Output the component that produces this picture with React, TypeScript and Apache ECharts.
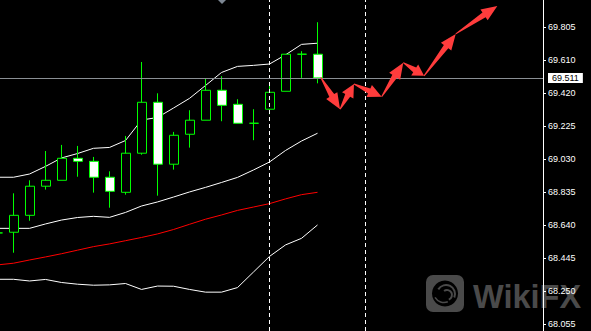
import React, { useEffect, useRef } from 'react';
import * as echarts from 'echarts';

// ---- data ----
const candleIndex = [0, 1, 2, 3, 4, 5, 6, 7, 8, 9, 10, 11, 12, 13, 14, 15, 16, 17, 18, 19, 20];
const openValues = [68.595, 68.599, 68.699, 68.871, 68.906, 69.036, 69.018, 68.924, 68.835, 69.066, 69.367, 69.001, 69.178, 69.261, 69.438, 69.355, 69.243, 69.326, 69.432, 69.651, 69.651];
const closeValues = [68.595, 68.699, 68.871, 68.906, 69.036, 69.018, 68.924, 68.841, 69.066, 69.367, 69.001, 69.172, 69.261, 69.438, 69.349, 69.243, 69.243, 69.426, 69.651, 69.651, 69.511];
const lowValues = [68.56, 68.478, 68.667, 68.851, 68.906, 68.927, 68.833, 68.744, 68.821, 69.057, 68.815, 68.969, 69.099, 69.261, 69.255, 69.243, 69.143, 69.296, 69.432, 69.511, 69.479];
const highValues = [68.63, 68.829, 68.906, 69.079, 69.115, 69.109, 69.044, 68.959, 69.168, 69.605, 69.42, 69.192, 69.32, 69.509, 69.521, 69.385, 69.326, 69.468, 69.651, 69.669, 69.84];

const upperBand = [68.924, 68.924, 68.943, 68.988, 69.038, 69.064, 69.095, 69.1, 69.141, 69.262, 69.277, 69.333, 69.39, 69.466, 69.543, 69.579, 69.585, 69.593, 69.647, 69.709, 69.716];
const innerBand = [68.622, 68.622, 68.622, 68.648, 68.671, 68.686, 68.693, 68.687, 68.716, 68.754, 68.778, 68.807, 68.837, 68.864, 68.893, 68.923, 68.967, 69.014, 69.082, 69.138, 69.184];
const redAverage = [68.406, 68.416, 68.435, 68.453, 68.472, 68.493, 68.514, 68.53, 68.549, 68.568, 68.589, 68.615, 68.646, 68.676, 68.701, 68.728, 68.748, 68.768, 68.796, 68.821, 68.835];
const lowerBand = [68.321, 68.321, 68.311, 68.32, 68.302, 68.292, 68.286, 68.288, 68.296, 68.261, 68.281, 68.28, 68.261, 68.245, 68.245, 68.272, 68.364, 68.456, 68.524, 68.563, 68.642];

const tickValues = [68.055, 68.25, 68.445, 68.64, 68.835, 69.03, 69.225, 69.42, 69.615, 69.81];
const tickLabels = ['68.055', '68.250', '68.445', '68.640', '68.835', '69.030', '69.225', '69.420', '69.610', '69.805'];

const lastPrice = 69.511;
const separatorIndexes = [17, 23];

const arrowX = [20.2, 21.41, 22.28, 24.01, 25.36, 26.66, 28.64, 31.24];
const arrowY = [69.515, 69.326, 69.475, 69.4, 69.601, 69.523, 69.771, 69.936];

const FONT = '"Liberation Sans", Arial, sans-serif';

export default function App() {
  const ref = useRef<HTMLDivElement>(null);

  useEffect(() => {
    document.body.style.margin = '0';
    document.body.style.background = '#000';
    const chart = echarts.init(ref.current!, null, { renderer: 'svg' });

    const candles = candleIndex.map((x, i) => [x, openValues[i], closeValues[i], lowValues[i], highValues[i]]);
    const toLine = (arr: number[]) => candleIndex.map((x, i) => [x, arr[i]]);
    const segments = arrowX.slice(0, -1).map((x, i) => [x, arrowY[i], arrowX[i + 1], arrowY[i + 1]]);

    const lineSeries = (name: string, arr: number[], color: string, extra: any = {}) => ({
      name,
      type: 'line',
      data: toLine(arr),
      showSymbol: false,
      symbol: 'none',
      silent: true,
      lineStyle: { color, width: 1 },
      z: 2,
      ...extra,
    });

    chart.setOption({
      animation: false,
      backgroundColor: '#000000',
      grid: { left: 0, right: 48, top: 0, bottom: 0, containLabel: false, outerBoundsMode: 'none' },
      xAxis: { type: 'value', min: 0.15625, max: 34.09375, show: false },
      yAxis: {
        type: 'value',
        position: 'right',
        min: 68.0154,
        max: 69.9713,
        splitLine: { show: false },
        axisLine: { show: true, lineStyle: { color: '#ffffff', width: 1 } },
        axisTick: { show: true, inside: false, length: 3, lineStyle: { color: '#ffffff' }, customValues: tickValues },
        axisLabel: {
          show: true,
          color: '#ffffff',
          fontSize: 9,
          fontFamily: FONT,
          margin: 5,
          customValues: tickValues,
          formatter: (v: number) => {
            const i = tickValues.findIndex((t) => Math.abs(t - v) < 0.001);
            return i >= 0 ? tickLabels[i] : '';
          },
        },
      },
      graphic: [
        {
          type: 'group',
          z: -10,
          silent: true,
          children: [
            { type: 'rect', shape: { x: 426, y: 275, width: 38, height: 37, r: 7 }, style: { fill: '#4a4a4a' }, z: -10 },
            { type: 'circle', shape: { cx: 445, cy: 293.5, r: 13 }, style: { fill: '#000000' }, z: -9 },
            { type: 'arc', shape: { cx: 446, cy: 294, r: 9, startAngle: -2.6, endAngle: 0.4 }, style: { stroke: '#4a4a4a', lineWidth: 2, fill: 'none' }, z: -8 },
            { type: 'arc', shape: { cx: 447, cy: 295, r: 5, startAngle: -2.2, endAngle: 1.2 }, style: { stroke: '#4a4a4a', lineWidth: 2, fill: 'none' }, z: -8 },
            { type: 'arc', shape: { cx: 444, cy: 292, r: 10.5, startAngle: 1.2, endAngle: 2.6 }, style: { stroke: '#4a4a4a', lineWidth: 1.5, fill: 'none' }, z: -8 },
            {
              type: 'text',
              x: 473,
              y: 297,
              z: -10,
              style: { text: 'WikiFX', fill: '#4a4a4a', fontSize: 32.5, fontWeight: 'bold', fontFamily: FONT, verticalAlign: 'middle', align: 'left' },
            },
          ],
        },
        {
          type: 'polygon',
          silent: true,
          shape: { points: [[218, 0], [226, 0], [222, 4]] },
          style: { fill: '#7d8793' },
        },
      ],
      series: [
        lineSeries('lower', lowerBand, '#ffffff'),
        lineSeries('average', redAverage, '#ff0000', {
          markLine: {
            silent: true,
            symbol: ['none', 'none'],
            label: { show: false },
            lineStyle: { color: '#ffffff', type: [4, 3], width: 1 },
            data: separatorIndexes.map((x) => ({ xAxis: x })),
          },
        }),
        lineSeries('inner', innerBand, '#ffffff'),
        lineSeries('upper', upperBand, '#ffffff'),
        {
          type: 'candlestick',
          data: candles,
          barWidth: 9.5,
          silent: true,
          z: 3,
          itemStyle: {
            color: '#000000',
            color0: '#ffffff',
            borderColor: '#00ff00',
            borderColor0: '#00ff00',
            borderColorDoji: '#00ff00',
            borderWidth: 1,
          },
          markLine: {
            silent: true,
            symbol: ['none', 'none'],
            lineStyle: { color: '#8a8f94', width: 1, type: 'solid' },
            label: {
              show: true,
              position: 'end',
              distance: 5,
              formatter: () => lastPrice.toFixed(3),
              backgroundColor: '#ffffff',
              color: '#000000',
              fontSize: 9,
              fontFamily: FONT,
              lineHeight: 10,
              padding: [0, 4, 0, 4],
            },
            data: [{ yAxis: lastPrice }],
          },
        },
        {
          type: 'custom',
          z: 5,
          silent: true,
          data: segments,
          encode: { x: [0, 2], y: [1, 3] },
          clip: false,
          renderItem: (params: any, api: any) => {
            const p0 = api.coord([api.value(0), api.value(1)]);
            const p1 = api.coord([api.value(2), api.value(3)]);
            const dx = p1[0] - p0[0];
            const dy = p1[1] - p0[1];
            const L = Math.sqrt(dx * dx + dy * dy);
            const ux = dx / L;
            const uy = dy / L;
            const nx = -uy;
            const ny = ux;
            const h = Math.min(16, L * 0.45);
            const hw = 6.5;
            const sw = 2.8;
            const tw = 0.5;
            const bx = p1[0] - ux * h;
            const by = p1[1] - uy * h;
            const pts = [
              [p0[0] + nx * tw, p0[1] + ny * tw],
              [bx + nx * sw, by + ny * sw],
              [bx + nx * hw, by + ny * hw],
              [p1[0], p1[1]],
              [bx - nx * hw, by - ny * hw],
              [bx - nx * sw, by - ny * sw],
              [p0[0] - nx * tw, p0[1] - ny * tw],
            ];
            return { type: 'polygon', shape: { points: pts }, style: { fill: '#ff3c3c' } };
          },
        },
      ],
    });

    return () => chart.dispose();
  }, []);

  return <div ref={ref} style={{ position: 'fixed', left: 0, top: 0, width: 591, height: 331 }} />;
}
